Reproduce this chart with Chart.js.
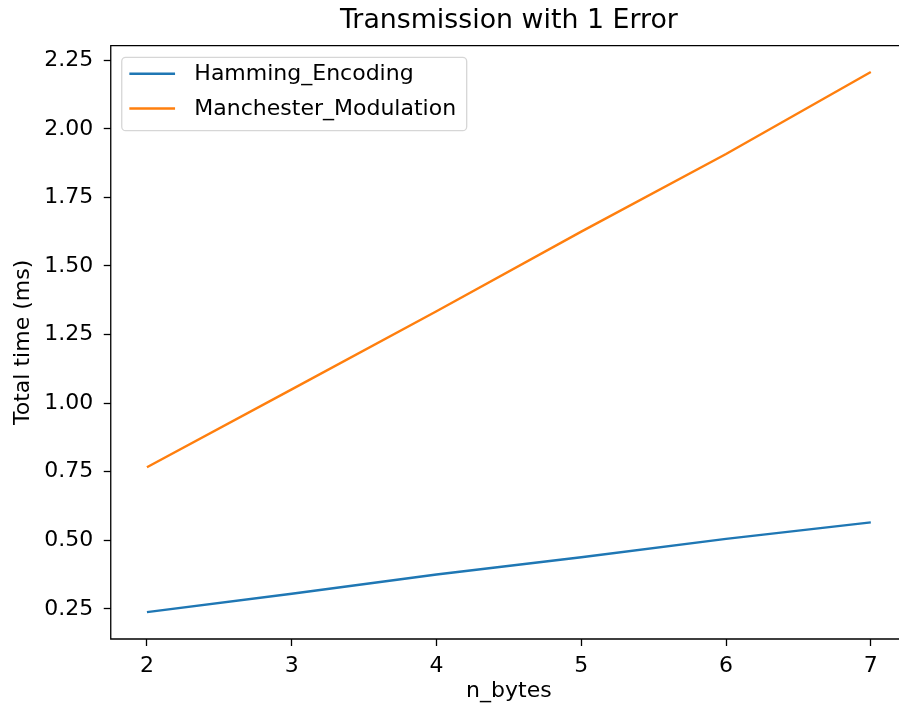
<!DOCTYPE html>
<html>
<head>
<meta charset="utf-8">
<title>Transmission with 1 Error</title>
<script src="https://cdn.jsdelivr.net/npm/chart.js@4.4.0/dist/chart.umd.min.js"></script>
<style>
  html, body { margin: 0; padding: 0; background: #fff; overflow: hidden; }
  #wrap { position: absolute; left: 0; top: 0; width: 960px; height: 711px; }
</style>
</head>
<body>
<div id="wrap"><canvas id="chart"></canvas></div>
<script>
// ── Datos ─────────────────────────────────────────────
const nBytes = [2, 3, 4, 5, 6, 7];
const hammingEncoding      = [0.238, 0.305, 0.375, 0.438, 0.505, 0.565];
const manchesterModulation = [0.766, 1.050, 1.335, 1.625, 1.908, 2.207];
const xTicks = [2, 3, 4, 5, 6, 7];
const yTicks = [0.25, 0.50, 0.75, 1.00, 1.25, 1.50, 1.75, 2.00, 2.25];

const FONT = '"DejaVu Sans", sans-serif';
const TITULO = 'Transmission with 1 Error';
Chart.defaults.color = '#000';
Chart.defaults.font.family = FONT;

// Marco alrededor del área (estilo matplotlib) + título centrado sobre los ejes
const framePlugin = {
  id: 'frame',
  afterDatasetsDraw(chart) {
    const { ctx, chartArea: a } = chart;
    ctx.save();
    ctx.strokeStyle = '#000';
    ctx.lineWidth = 1.3;
    ctx.beginPath();
    ctx.moveTo(a.right, a.top);
    ctx.lineTo(a.left, a.top);
    ctx.lineTo(a.left, a.bottom);
    ctx.lineTo(a.right, a.bottom);
    ctx.stroke();
    ctx.font = '26.8px ' + FONT;
    ctx.fillStyle = '#000';
    ctx.textAlign = 'center';
    ctx.textBaseline = 'middle';
    ctx.fillText(TITULO, (a.left + a.right) / 2, a.top - 25);
    ctx.restore();
  }
};

// Leyenda dentro del área, arriba a la izquierda
const legendInside = {
  id: 'legendInside',
  afterDraw(chart) {
    const { ctx, chartArea } = chart;
    const items = chart.data.datasets;
    ctx.save();
    ctx.font = '22px ' + FONT;
    const textW = Math.max(...items.map(d => ctx.measureText(d.label).width));
    const x0 = chartArea.left + 11, y0 = chartArea.top + 11.6;
    const w = 72.6 + textW + 10.6, h = 73.4, rowH = 34.7;
    ctx.beginPath();
    ctx.roundRect(x0, y0, w, h, 4);
    ctx.fillStyle = 'rgba(255,255,255,0.8)';
    ctx.fill();
    ctx.strokeStyle = '#d6d6d6';
    ctx.lineWidth = 1.3;
    ctx.stroke();
    items.forEach((d, i) => {
      const cy = y0 + 16.5 + i * rowH;
      ctx.beginPath();
      ctx.moveTo(x0 + 7.6, cy);
      ctx.lineTo(x0 + 53.3, cy);
      ctx.strokeStyle = d.borderColor;
      ctx.lineWidth = d.borderWidth;
      ctx.stroke();
      ctx.fillStyle = '#000';
      ctx.textBaseline = 'middle';
      ctx.fillText(d.label, x0 + 72.6, cy + 0.5);
    });
    ctx.restore();
  }
};

const toPoints = ys => nBytes.map((x, i) => ({ x, y: ys[i] }));

new Chart(document.getElementById('chart'), {
  type: 'line',
  data: {
    datasets: [
      {
        label: 'Hamming_Encoding',
        data: toPoints(hammingEncoding),
        borderColor: '#1f77b4',
        borderWidth: 2.4, pointRadius: 0, tension: 0
      },
      {
        label: 'Manchester_Modulation',
        data: toPoints(manchesterModulation),
        borderColor: '#ff7f0e',
        borderWidth: 2.4, pointRadius: 0, tension: 0
      }
    ]
  },
  options: {
    responsive: true, maintainAspectRatio: false,
    devicePixelRatio: 1,
    animation: false,
    // el área de ejes sigue más allá del borde derecho, como en la original
    layout: { padding: { left: 0, right: 53, top: 45.7, bottom: 0 } },
    plugins: {
      legend: { display: false },
      tooltip: { enabled: false },
      title: { display: false }
    },
    scales: {
      x: {
        type: 'linear',
        min: 1.75, max: 7.25,
        afterBuildTicks: s => { s.ticks = xTicks.map(v => ({ value: v })); },
        afterFit: s => { s.height = 72; },
        grid: { display: true, drawOnChartArea: false, drawTicks: true, tickLength: 7, tickWidth: 1.3, tickColor: '#000' },
        border: { display: false },
        ticks: { font: { size: 22 }, padding: 7, maxRotation: 0, callback: v => String(v) },
        title: { display: true, text: 'n_bytes', font: { size: 22 }, padding: { top: 0, bottom: 7 } }
      },
      y: {
        type: 'linear',
        min: 0.14, max: 2.303,
        afterBuildTicks: s => { s.ticks = yTicks.map(v => ({ value: v })); },
        afterFit: s => { s.width = 110.75; },
        grid: { display: true, drawOnChartArea: false, drawTicks: true, tickLength: 7, tickWidth: 1.3, tickColor: '#000' },
        border: { display: false },
        ticks: { font: { size: 22 }, padding: 10.5, callback: v => Number(v).toFixed(2) },
        title: { display: true, text: 'Total time (ms)', font: { size: 22 }, padding: { top: 10, bottom: 0 } }
      }
    }
  },
  plugins: [framePlugin, legendInside]
});
</script>
</body>
</html>
